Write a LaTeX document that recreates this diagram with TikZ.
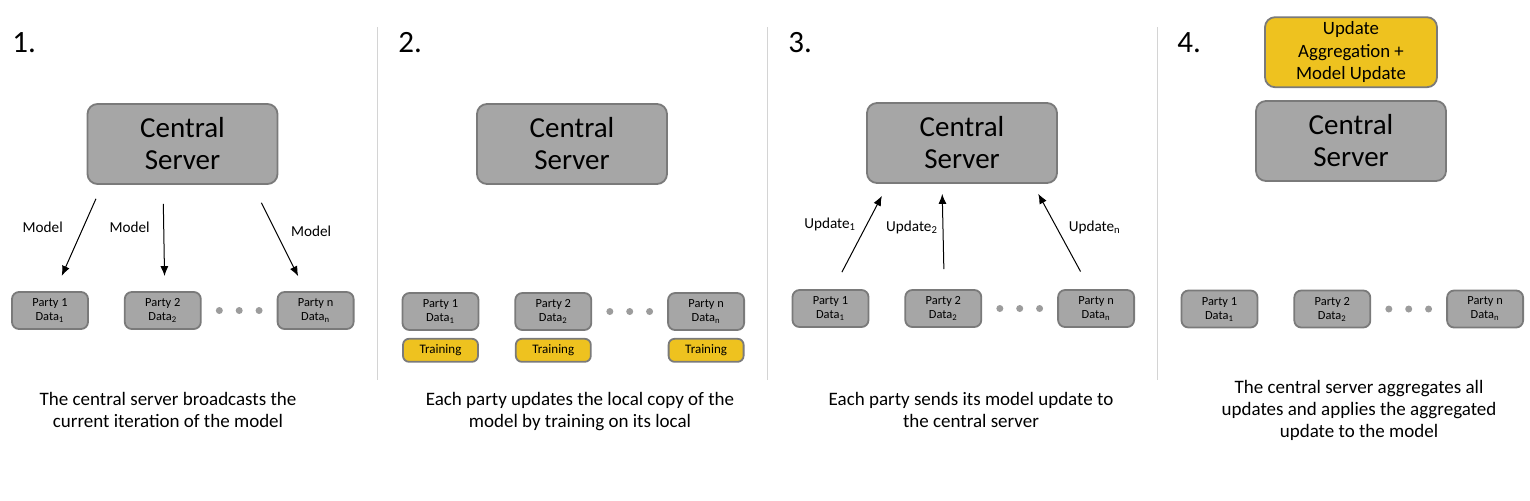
\documentclass[tikz,border=0pt]{standalone}
\usepackage{fontspec}
\setmainfont{Carlito}
\usetikzlibrary{positioning,calc,arrows.meta}

\definecolor{boxgray}{HTML}{A6A6A6}
\definecolor{linegray}{HTML}{7A7A7A}
\definecolor{gold}{HTML}{EEC21F}
\definecolor{sepgray}{HTML}{D4D4D4}
\definecolor{dotgray}{HTML}{9C9C9C}

\tikzset{
  server/.style={draw=linegray,fill=boxgray,rounded corners=5pt,line width=0.9pt,
    minimum width=95pt,minimum height=40pt,align=center,inner sep=0pt,
    font=\fontsize{14.5}{16}\selectfont},
  party/.style={draw=linegray,fill=boxgray,rounded corners=3.5pt,line width=0.9pt,
    minimum width=38pt,minimum height=18.5pt,align=center,inner sep=0pt,
    font=\fontsize{6.2}{7}\selectfont},
  train/.style={draw=linegray,fill=gold,rounded corners=3pt,line width=0.9pt,
    minimum width=37.5pt,minimum height=11.5pt,inner sep=0pt,
    font=\fontsize{6.5}{7}\selectfont},
  agg/.style={draw=linegray,fill=gold,rounded corners=5pt,line width=0.9pt,
    minimum width=86pt,minimum height=35pt,align=center,inner sep=0pt,
    font=\fontsize{9.4}{11.3}\selectfont},
  stepno/.style={anchor=base west,inner sep=0pt,font=\fontsize{15.5}{15.5}\selectfont},
  lbl/.style={inner sep=0pt,font=\fontsize{7.6}{9}\selectfont},
  note/.style={anchor=base,align=center,inner sep=0pt,font=\fontsize{9.5}{11}\selectfont},
  arr/.style={-{Latex[length=5pt,width=4pt]},line width=0.5pt},
  sep/.style={sepgray,line width=0.5pt},
  dot/.style={fill=dotgray}
}

\begin{document}
\begin{tikzpicture}[x=0.5pt,y=-0.5pt]
\useasboundingbox (0,0) rectangle (1530,500);

% separators
\draw[sep] (377,27) -- (377,380);
\draw[sep] (767,27) -- (767,380);
\draw[sep] (1157,27) -- (1157,380);

% 1. broadcast
\node[stepno] (n_1) at (12,52) {1.};
\node[server] (cs_1) at (182.5,144) {Central\\Server};
\node[party] (p1_1) at (50,310.5) {Party 1\\Data\textsubscript{1}};
\node[party] (p1_2) [right=17.5pt of p1_1] {Party 2\\Data\textsubscript{2}};
\node[party] (p1_n) [right=37.5pt of p1_2] {Party n\\Data\textsubscript{n}};
\fill[dot] ($(p1_2)!0.37!(p1_n)$) circle (3.5) ($(p1_2)!0.5!(p1_n)$) circle (3.5) ($(p1_2)!0.63!(p1_n)$) circle (3.5);
\draw[arr,shorten <=7.6pt,shorten >=8.3pt] ($(cs_1.south west)+(15.5,0)$) -- node[lbl,pos=0.4,left=10pt] {Model} ($(p1_1.north)+(5,0)$);
\draw[arr,shorten <=9.5pt,shorten >=7.5pt] ($(cs_1.south)+(-19.5,0)$) -- node[lbl,pos=0.4,left=6.75pt] {Model} ($(p1_2.north)+(2,0)$);
\draw[arr,shorten <=10pt,shorten >=8.3pt] ($(cs_1.south east)+(-26,0)$) -- node[lbl,pos=0.435,right=7.5pt] {Model} ($(p1_n.north)+(-10,0)$);
\node[note] (c_1) at (168,427) {The central server broadcasts the\\current iteration of the model};

% 2. local training
\node[stepno] (n_2) at (398,52) {2.};
\node[server] (cs_2) at (572,144) {Central\\Server};
\node[party] (p2_1) at (440.5,311.5) {Party 1\\Data\textsubscript{1}};
\node[party] (p2_2) [right=17.5pt of p2_1] {Party 2\\Data\textsubscript{2}};
\node[party] (p2_n) [right=37.5pt of p2_2] {Party n\\Data\textsubscript{n}};
\fill[dot] ($(p2_2)!0.37!(p2_n)$) circle (3.5) ($(p2_2)!0.5!(p2_n)$) circle (3.5) ($(p2_2)!0.63!(p2_n)$) circle (3.5);
\node[train] (t2_1) [below=3.5pt of p2_1] {Training};
\node[train] (t2_2) [below=3.5pt of p2_2] {Training};
\node[train] (t2_n) [below=3.5pt of p2_n] {Training};
\node[note] (c_2) at (580,427) {Each party updates the local copy of the\\model by training on its local};

% 3. send updates
\node[stepno] (n_3) at (788,52) {3.};
\node[server] (cs_3) at (962,143) {Central\\Server};
\node[party] (p3_1) at (830.5,308.5) {Party 1\\Data\textsubscript{1}};
\node[party] (p3_2) [right=17.5pt of p3_1] {Party 2\\Data\textsubscript{2}};
\node[party] (p3_n) [right=37.5pt of p3_2] {Party n\\Data\textsubscript{n}};
\fill[dot] ($(p3_2)!0.37!(p3_n)$) circle (3.5) ($(p3_2)!0.5!(p3_n)$) circle (3.5) ($(p3_2)!0.63!(p3_n)$) circle (3.5);
\draw[arr,shorten <=9.6pt,shorten >=6.7pt] ($(p3_1.north)+(2.5,0)$) -- node[lbl,pos=0.61,left=5pt] {Update\textsubscript{1}} ($(cs_3.south west)+(22,0)$);
\draw[arr,shorten <=10pt,shorten >=5pt] ($(p3_2.north)+(1,0)$) -- node[lbl,pos=0.59,left=2.25pt] {Update\textsubscript{2}} ($(cs_3.south)+(-20,0)$);
\draw[arr,shorten <=10pt,shorten >=5.6pt] ($(p3_n.north)+(-6,0)$) -- node[lbl,pos=0.59,right=6pt] {Update\textsubscript{n}} ($(cs_3.south east)+(-25,0)$);
\node[note] (c_3) at (971,427) {Each party sends its model update to\\the central server};

% 4. aggregation
\node[stepno] (n_4) at (1177,52) {4.};
\node[server] (cs_4) at (1351,141) {Central\\Server};
\node[agg] (ag_4) [above=6pt of cs_4] {Update\\Aggregation +\\Model Update};
\node[party] (p4_1) at (1219.5,309) {Party 1\\Data\textsubscript{1}};
\node[party] (p4_2) [right=17.5pt of p4_1] {Party 2\\Data\textsubscript{2}};
\node[party] (p4_n) [right=37.5pt of p4_2] {Party n\\Data\textsubscript{n}};
\fill[dot] ($(p4_2)!0.37!(p4_n)$) circle (3.5) ($(p4_2)!0.5!(p4_n)$) circle (3.5) ($(p4_2)!0.63!(p4_n)$) circle (3.5);
\node[note] (c_4) at (1359,437) {The central server aggregates all\\updates and applies the aggregated\\update to the model};
\end{tikzpicture}
\end{document}
